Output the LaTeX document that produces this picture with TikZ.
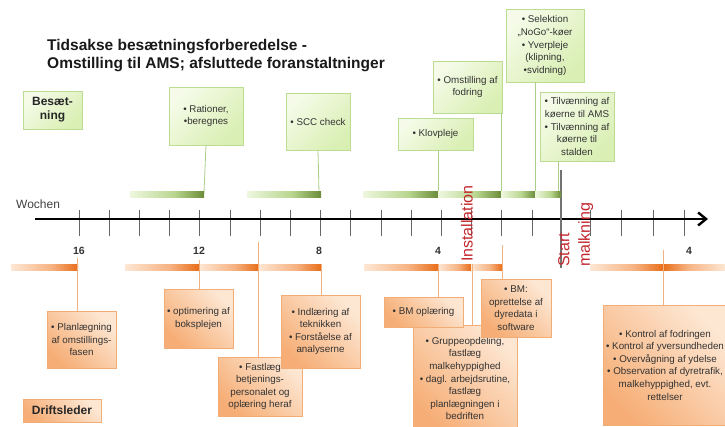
\documentclass[tikz,border=0pt]{standalone}
\usepackage{fontspec}
\setmainfont{Liberation Sans}
\usetikzlibrary{arrows.meta,calc,positioning,shadows}

\definecolor{gFill}{HTML}{F5FBE8}
\definecolor{gFillD}{HTML}{D9EFB3}
\definecolor{gDraw}{HTML}{BBDC92}
\definecolor{gBar}{HTML}{6A8C38}
\definecolor{gBarM}{HTML}{B9D68F}
\definecolor{gBarL}{HTML}{EEF7DE}
\definecolor{gLine}{HTML}{AACF88}
\definecolor{oFill}{HTML}{FDE7D3}
\definecolor{oFillD}{HTML}{F6AE76}
\definecolor{oDraw}{HTML}{F2AC76}
\definecolor{oBar}{HTML}{E86E1A}
\definecolor{oBarM}{HTML}{F6B383}
\definecolor{oBarL}{HTML}{FDE7D4}
\definecolor{oLine}{HTML}{F3B080}
\definecolor{redTxt}{HTML}{C3282F}

\pgfdeclarehorizontalshading{greenramp}{100bp}{color(0bp)=(gBarL); color(25bp)=(gBarL); color(55bp)=(gBarM); color(75bp)=(gBar); color(100bp)=(gBar)}
\pgfdeclarehorizontalshading{orangeramp}{100bp}{color(0bp)=(oBarL); color(25bp)=(oBarL); color(55bp)=(oBarM); color(75bp)=(oBar); color(100bp)=(oBar)}
\pgfdeclarehorizontalshading{orangerampback}{100bp}{color(0bp)=(oBar); color(25bp)=(oBar); color(45bp)=(oBarM); color(75bp)=(oBarL); color(100bp)=(oBarL)}

\tikzset{
  box/.style={align=center, inner sep=2pt, text=black!80,
    font=\fontsize{9.8}{12.6}\selectfont,
    drop shadow={opacity=0.12, shadow xshift=1pt, shadow yshift=-1pt}},
  gbox/.style={box, draw=gDraw, top color=gFill, bottom color=gFillD, shading angle=45},
  obox/.style={box, draw=oDraw, top color=oFill, bottom color=oFillD, shading angle=-45},
  bold/.style={font=\fontsize{12}{14}\selectfont\bfseries, text=black!85},
  gconn/.style={draw=gLine, line width=0.8pt},
  oconn/.style={draw=oLine, line width=0.8pt},
  greenbar/.style={shading=greenramp},
  orangebar/.style={shading=orangeramp},
  wtick/.style={draw=black!60, line width=1pt},
  weeknum/.style={anchor=base, font=\fontsize{10.5}{13}\selectfont\bfseries, text=black!80},
  redlabel/.style={rotate=90, inner sep=0pt, text=redTxt, font=\fontsize{16}{20.5}\selectfont}
}

\begin{document}
\begin{tikzpicture}[x=1pt,y=-1pt]
  \fill[white] (0,0) rectangle (725,426);
  \useasboundingbox (0,0) rectangle (725,426);

  % title
  \node[anchor=north west, inner sep=0pt, align=left, text=black!90,
    font=\fontsize{15.5}{18}\selectfont\bfseries] (title) at (47,39)
    {Tidsakse besætningsforberedelse -\\Omstilling til AMS; afsluttede foranstaltninger};

  % time axis
  \coordinate (ax0) at (35,219);
  \coordinate (ax1) at (708,219);
  \foreach \i in {0,...,15}
    \draw[wtick] ({79+30.2*\i},210) -- ({79+30.2*\i},236);
  \foreach \i in {0,...,3}
    \draw[wtick] ({590+31.6*\i},210) -- ({590+31.6*\i},236);
  \draw[line width=2.4pt, -{Straight Barb[length=8pt,width=13pt]}] (ax0) -- (ax1);
  \node[anchor=base west, inner sep=0pt, text=black!75,
    font=\fontsize{12}{14}\selectfont] (wochen) at (16,208) {Wochen};
  \node[weeknum] (w16) at (79,254) {16};
  \node[weeknum] (w12) at (199,254) {12};
  \node[weeknum] (w8) at (319,254) {8};
  \node[weeknum] (w4) at (438,254) {4};
  \node[weeknum] (p4) at (689,254) {4};

  % start of milking
  \coordinate (st0) at (561,170);
  \coordinate (st1) at (561,268);
  \draw[black!55, line width=1.3pt] (st0) -- (st1);

  % Besaetning
  \node[gbox, bold, minimum width=59pt, minimum height=38pt] (besaet) at (52.5,110) {Besæt-\\ning};
  \node[gbox, minimum width=74pt, minimum height=58pt] (rat) at (206,116) {• Rationer,\\•beregnes};
  \node[gbox, minimum width=64pt, minimum height=57pt] (scc) at (318,121.5) {• SCC check};
  \node[gbox, minimum width=75pt, minimum height=32pt] (klov) at (435.5,134) {• Klovpleje};
  \node[gbox, minimum width=69pt, minimum height=52pt] (oms) at (467.5,87) {• Omstilling af\\fodring};
  \node[gbox, minimum width=78pt, minimum height=73pt] (sel) at (545,45.5)
    {• Selektion\\„NoGo“-køer\\• Yverpleje\\(klipning,\\•svidning)};
  \node[gbox, minimum width=74pt, minimum height=69pt] (tilv) at (577,126.5)
    {• Tilvænning af\\køerne til AMS\\• Tilvænning af\\køerne til\\stalden};

  \coordinate (g1) at (204,193);
  \coordinate (g2) at (319,193);
  \coordinate (g3) at (438,193);
  \coordinate (g4) at (501,193);
  \coordinate (g5) at (535,193);
  \coordinate (g6) at (558,193);
  \draw[gconn] (rat.south) -- (g1);
  \draw[gconn] (scc.south) -- (g2);
  \draw[gconn] (klov.south -| g3) -- (g3);
  \draw[gconn] (oms.south -| g4) -- (g4);
  \draw[gconn] (sel.south -| g5) -- (g5);
  \draw[gconn] (tilv.south -| g6) -- (g6);
  \foreach \a/\b in {130/204, 247/321, 363/438, 438/501, 501/535, 535/561}
    \shade[greenbar] (\a,191) rectangle (\b,197);

  % Driftsleder
  \coordinate (o1) at (77,258);
  \coordinate (o2) at (199,260);
  \coordinate (o3) at (258,242);
  \coordinate (o4) at (321,264);
  \coordinate (o5) at (438,264);
  \coordinate (o6) at (472,264);
  \coordinate (o7) at (502,245);
  \coordinate (o8) at (663,250);
  \foreach \a/\b in {11/78, 125/199, 199/258, 258/321, 364/438, 438/471, 471/502, 590/663}
    \shade[orangebar] (\a,264) rectangle (\b,270);
  \shade[shading=orangerampback] (663,264) rectangle (725,270);

  \node[obox, minimum width=69pt, minimum height=57pt] (plan) at (81.5,339.5)
    {• Planlægning\\af omstillings-\\fasen};
  \node[obox, minimum width=69pt, minimum height=59pt] (opt) at (198.5,318.5)
    {• optimering af\\boksplejen};
  \node[obox, minimum width=84pt, minimum height=59pt] (fast) at (260,386.5)
    {• Fastlæg\\betjenings-\\personalet og\\oplæring heraf};
  \node[obox, minimum width=79pt, minimum height=73pt] (indl) at (320.5,331.5)
    {• Indlæring af\\teknikken\\• Forståelse af\\analyserne};
  \node[obox, bold, minimum width=78pt, minimum height=23pt] (drift) at (62,410.5) {Driftsleder};
  \node[obox, minimum width=104pt, minimum height=107pt] (grp) at (465,378.5)
    {• Gruppeopdeling,\\fastlæg\\malkehyppighed\\• dagl. arbejdsrutine,\\fastlæg\\planlægningen i\\bedriften};
  \node[obox, minimum width=79pt, minimum height=30pt] (bmopl) at (423.5,312) {• BM oplæring};
  \node[obox, minimum width=70pt, minimum height=58pt] (bmopr) at (516,308)
    {• BM:\\oprettelse af\\dyredata i\\software};
  \node[obox, minimum width=124pt, minimum height=120pt] (kontrol) at (665,365)
    {• Kontrol af fodringen\\• Kontrol af yversundheden\\• Overvågning af ydelse\\• Observation af dyretrafik,\\malkehyppighed, evt.\\rettelser};

  \draw[oconn] (o1) -- (o1 |- plan.north);
  \draw[oconn] (o2) -- (o2 |- opt.north);
  \draw[oconn] (o3) -- (o3 |- fast.north);
  \draw[oconn] (o4) -- (o4 |- indl.north);
  \draw[oconn] (o5) -- (o5 |- bmopl.north);
  \draw[oconn] (o6) -- (o6 |- grp.north);
  \draw[oconn] (o7) -- (o7 |- bmopr.north);
  \draw[oconn] (o8) -- (o8 |- kontrol.north);

  % milestones
  \node[redlabel, anchor=west] (inst) at (467,262) {Installation};
  \node[redlabel, anchor=north west, align=left] (start) at (558,267) {Start\\malkning};
\end{tikzpicture}
\end{document}
